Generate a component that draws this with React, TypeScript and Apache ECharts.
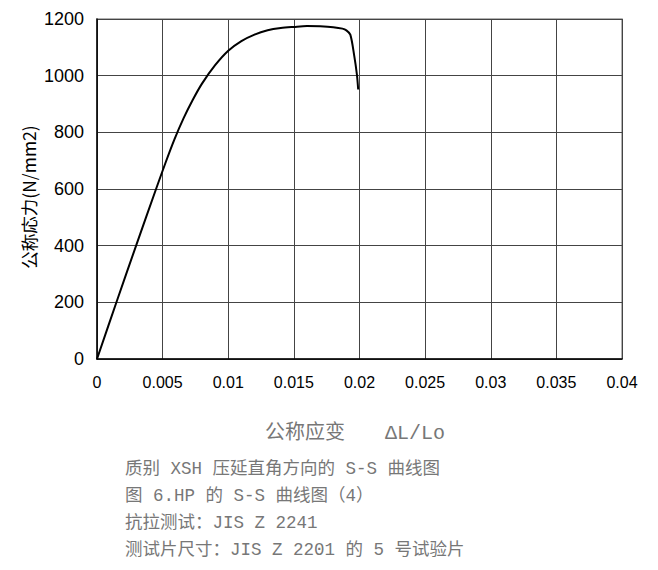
import React, { useEffect, useRef } from "react";
import * as echarts from "echarts";

const strain = [0, 0.0015, 0.003, 0.0045, 0.0052, 0.0059, 0.0066, 0.0073, 0.008, 0.009, 0.01, 0.011, 0.012, 0.013, 0.014, 0.015, 0.016, 0.017, 0.018, 0.0187, 0.019, 0.0193, 0.0196, 0.0198, 0.0199];
const stress = [0, 203, 403, 600, 690, 775, 850, 915, 972, 1037, 1088, 1122, 1145, 1160, 1168, 1172, 1175, 1174, 1171, 1166, 1160, 1145, 1070, 1005, 951];
const yAxisTitle = "公称応力(N/mm2)";
const xAxisTitle = "公称应变　　ΔL/Lo";
const captionLines = [
  "质别 XSH 压延直角方向的 S-S 曲线图",
  "图 6.HP 的 S-S 曲线图（4）",
  "抗拉测试：JIS Z 2241",
  "测试片尺寸：JIS Z 2201 的 5 号试验片",
];

export default function App() {
  const ref = useRef<HTMLDivElement>(null);
  useEffect(() => {
    document.body.style.margin = "0";
    const chart = echarts.init(ref.current!, null, { renderer: "svg" });
    const data = strain.map((s, i) => [s, stress[i]]);
    const labelFont = "Liberation Sans, Arial, sans-serif";
    const capFamily = "Liberation Mono, Courier New, Noto Sans CJK SC, monospace";
    chart.setOption({
      animation: false,
      backgroundColor: "#fff",
      grid: {
        left: 97, top: 19, right: 36, bottom: 211,
        show: true, borderColor: "#999", borderWidth: 1.5,
      },
      xAxis: {
        type: "value", min: 0, max: 0.04, interval: 0.005,
        axisLine: { show: true, lineStyle: { color: "#000", width: 1.5 } },
        axisTick: { show: false },
        axisLabel: {
          color: "#000", fontSize: 16, fontFamily: labelFont, margin: 15,
          formatter: (v: number) => String(parseFloat(v.toFixed(3))),
        },
        splitLine: { show: true, lineStyle: { color: "#444", width: 1 } },
      },
      yAxis: {
        type: "value", min: 0, max: 1200, interval: 200,
        axisLine: { show: true, lineStyle: { color: "#000", width: 1.5 } },
        axisTick: { show: false },
        axisLabel: {
          color: "#000", fontSize: 18, fontFamily: labelFont, margin: 13,
          formatter: (v: number) => String(v),
        },
        splitLine: { show: true, lineStyle: { color: "#444", width: 1 } },
      },
      series: [
        {
          type: "line", data, showSymbol: false, smooth: 0.3,
          lineStyle: { color: "#000", width: 2 },
        },
      ],
      graphic: [
        {
          type: "text", x: 28, y: 197, rotation: Math.PI / 2,
          style: {
            text: yAxisTitle, fill: "#000", align: "center", verticalAlign: "middle",
            fontSize: 17.5, fontFamily: "Noto Sans CJK JP, sans-serif",
          },
        },
        {
          type: "text", x: 265, y: 433.5,
          style: { text: xAxisTitle, fill: "#777", verticalAlign: "middle", fontSize: 20, fontFamily: capFamily },
        },
        ...captionLines.map((t, i) => ({
          type: "text", x: 125, y: 469 + i * 27,
          style: { text: t, fill: "#777", verticalAlign: "middle", fontSize: 17.5, fontFamily: capFamily },
        })),
      ],
    });
    return () => chart.dispose();
  }, []);
  return <div ref={ref} style={{ width: 658, height: 570 }} />;
}
